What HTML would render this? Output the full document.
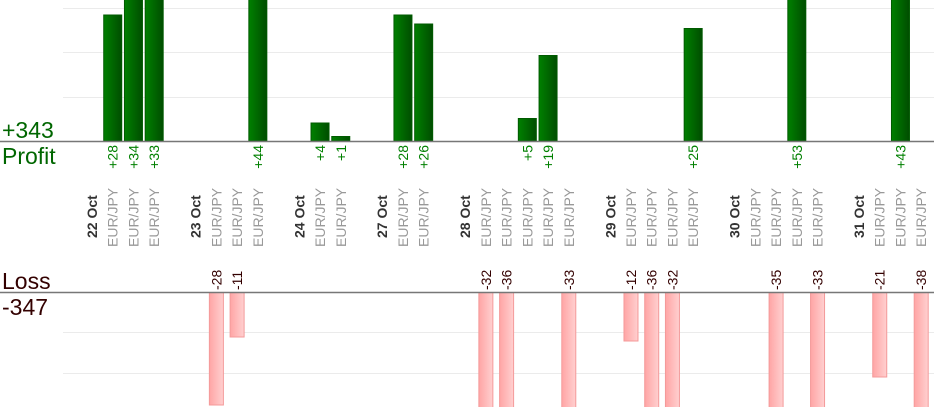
<!DOCTYPE html>
<html><head><meta charset="utf-8"><style>
html,body{margin:0;padding:0;background:#fff;width:934px;height:420px;overflow:hidden}
svg{display:block}
svg text{font-family:"Liberation Sans",sans-serif}
</style></head><body>
<svg width="934" height="420" xmlns="http://www.w3.org/2000/svg">
<defs>
<linearGradient id="g" x1="0" x2="1"><stop offset="0" stop-color="#008000"/><stop offset="1" stop-color="#004d00"/></linearGradient>
<linearGradient id="r" x1="0" x2="1"><stop offset="0" stop-color="#ffa5a5"/><stop offset="1" stop-color="#ffd0d0"/></linearGradient>
<clipPath id="cp"><rect x="0" y="0" width="934" height="141"/></clipPath>
<clipPath id="cl"><rect x="0" y="292" width="934" height="115"/></clipPath>
</defs>
<g stroke="#ebebeb" stroke-width="1">
<line x1="63" y1="8.5" x2="934" y2="8.5"/><line x1="63" y1="52.5" x2="934" y2="52.5"/><line x1="63" y1="97.5" x2="934" y2="97.5"/>
<line x1="63" y1="332.5" x2="934" y2="332.5"/><line x1="63" y1="373.5" x2="934" y2="373.5"/>
</g>
<g id="bars"></g>
<line x1="0" y1="141.5" x2="934" y2="141.5" stroke="#777" stroke-width="1.5"/>
<line x1="0" y1="292.5" x2="934" y2="292.5" stroke="#777" stroke-width="1.5"/>
<text x="2" y="138" font-size="23" fill="#006600">+343</text>
<text x="2" y="164" font-size="23" fill="#006600">Profit</text>
<text x="2" y="289" font-size="23" fill="#330000">Loss</text>
<text x="2" y="315" font-size="23" fill="#330000">-347</text>
<g id="lab"></g>
</svg>
<script>
const c=i=>92+20.73*i;
const dates={0:"22 Oct",5:"23 Oct",10:"24 Oct",14:"27 Oct",18:"28 Oct",25:"29 Oct",31:"30 Oct",37:"31 Oct"};
const eur=[1,2,3,6,7,8,11,12,15,16,19,20,21,22,23,26,27,28,29,32,33,34,35,38,39,40];
const prof={1:28,2:34,3:33,8:44,11:4,12:1,15:28,16:26,21:5,22:19,29:25,34:53,39:43};
const loss={6:28,7:11,19:32,20:36,23:33,26:12,27:36,28:32,33:35,35:33,38:21,40:38};
let b='',l='';
for(const k in prof){const x=c(+k),h=prof[k]*4.5;
b+=`<rect clip-path="url(#cp)" x="${x-9}" y="${141-h}" width="18" height="${h}" fill="url(#g)" stroke="#005a00" stroke-width="1"/>`;
l+=`<text transform="translate(${x+5},145) rotate(-90)" text-anchor="end" font-size="14" fill="#008000">+${prof[k]}</text>`;}
for(const k in loss){const x=c(+k),h=loss[k]*4.0;
b+=`<rect clip-path="url(#cl)" x="${x-7}" y="292" width="14" height="${h+1}" fill="url(#r)" stroke="#f49a9a" stroke-width="1"/>`;
l+=`<text transform="translate(${x+5},290) rotate(-90)" font-size="14" fill="#330000">-${loss[k]}</text>`;}
for(const k in dates){l+=`<text transform="translate(${c(+k)+5},238) rotate(-90)" font-size="14" font-weight="bold" fill="#333">${dates[k]}</text>`;}
for(const k of eur){l+=`<text transform="translate(${c(k)+5},247) rotate(-90)" font-size="14" fill="#999">EUR/JPY</text>`;}
document.getElementById('bars').innerHTML=b;
document.getElementById('lab').innerHTML=l;
</script>
</body></html>
